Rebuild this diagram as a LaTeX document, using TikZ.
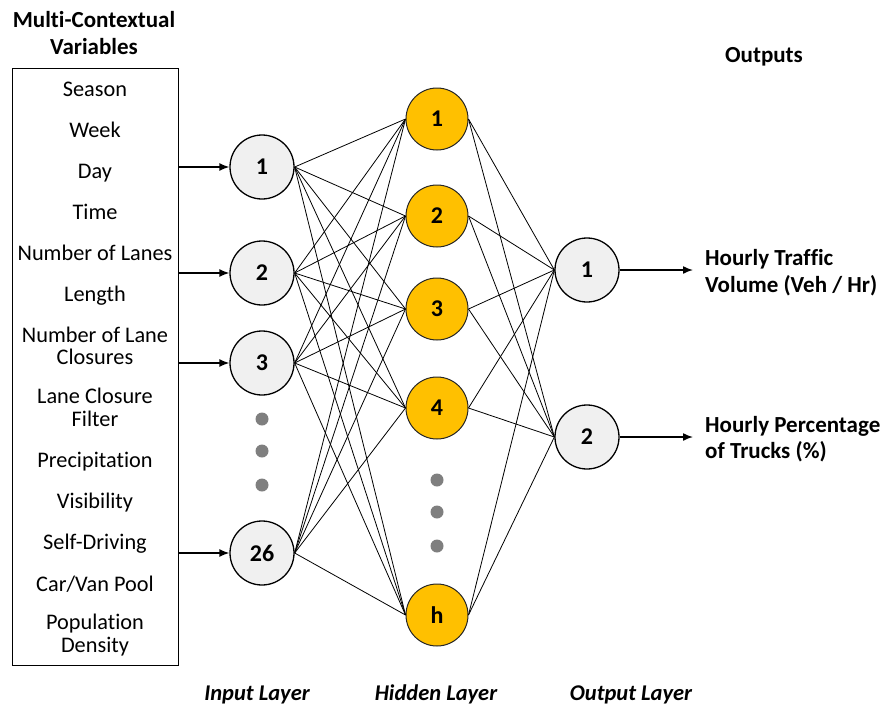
\documentclass[tikz,border=0pt]{standalone}
\usepackage{fontspec}
\setmainfont{Carlito}[Ligatures={NoCommon}]
\usetikzlibrary{arrows.meta}
\definecolor{hidgold}{HTML}{FFC000}
\definecolor{infill}{HTML}{F0F0F0}
\definecolor{dotgray}{HTML}{7F7F7F}
\begin{document}
\begin{tikzpicture}[x=1pt,y=-1pt,
  inp/.style={circle,draw=black,line width=1.3pt,fill=infill,minimum size=64pt,inner sep=0pt,font=\fontsize{24}{28}\selectfont\bfseries},
  hid/.style={circle,draw=black!85,line width=1pt,fill=hidgold,minimum size=62pt,inner sep=0pt,font=\fontsize{24}{28}\selectfont\bfseries},
  dotn/.style={circle,fill=dotgray,minimum size=13pt,inner sep=0pt},
  var/.style={anchor=base,align=center,font=\fontsize{22.3}{22.4}\selectfont,inner sep=0pt},
  ttl/.style={anchor=base,font=\fontsize{23}{27}\selectfont\bfseries,inner sep=0pt},
  lbl/.style={anchor=base west,font=\fontsize{23}{27}\selectfont\bfseries,inner sep=0pt},
  lay/.style={anchor=base,font=\fontsize{22.5}{26}\selectfont\bfseries\itshape,inner sep=0pt},
  link/.style={line width=0.8pt},
  feed/.style={line width=1.5pt,-{Latex[length=10pt,width=8pt]}},
]
\useasboundingbox (0,0) rectangle (881,707);

% title
\node[ttl] (t1) at (94,27.5) {Multi-Contextual};
\node[ttl] (t2) at (94,54) {Variables};

% variable box
\node[draw=black,line width=1pt,anchor=north west,minimum width=166pt,minimum height=597pt,inner sep=0pt] (box) at (12,68) {};

\node[var] (v1) at (95,96) {Season};
\node[var] (v2) at (95,137) {Week};
\node[var] (v3) at (95,178) {Day};
\node[var] (v4) at (95,219) {Time};
\node[var] (v5) at (95,260) {Number of Lanes};
\node[var] (v6) at (95,301) {Length};
\node[var] (v7) at (95,364.7) {Number of Lane\\Closures};
\node[var] (v8) at (95,426.2) {Lane Closure\\Filter};
\node[var] (v9) at (95,467) {Precipitation};
\node[var] (v10) at (95,508) {Visibility};
\node[var] (v11) at (95,549) {Self-Driving};
\node[var] (v12) at (95,591) {Car/Van Pool};
\node[var] (v13) at (95,652) {Population\\Density};

% input layer
\node[inp] (i1) at (262,167) {1};
\node[inp] (i2) at (262,273) {2};
\node[inp] (i3) at (262,363) {3};
\node[inp] (i26) at (262,553) {26};
\node[dotn] (id1) at (262,419) {};
\node[dotn] (id2) at (262,451) {};
\node[dotn] (id3) at (262,485) {};

% hidden layer
\node[hid] (h1) at (437,119) {1};
\node[hid] (h2) at (437,216) {2};
\node[hid] (h3) at (437,309) {3};
\node[hid] (h4) at (437,408) {4};
\node[hid] (hh) at (437,615) {h};
\node[dotn] (hd1) at (437,480) {};
\node[dotn] (hd2) at (437,512) {};
\node[dotn] (hd3) at (437,546) {};

% output layer
\node[inp] (o1) at (587,270) {1};
\node[inp] (o2) at (587,437) {2};

% connections
\foreach \a in {i1,i2,i3,i26}{
  \foreach \b in {h1,h2,h3,h4,hh}{
    \draw[link] (\a.east) -- (\b.west);
  }
}
\foreach \a in {h1,h2,h3,h4,hh}{
  \foreach \b in {o1,o2}{
    \draw[link] (\a.east) -- (\b.west);
  }
}

% input arrows
\foreach \a in {i1,i2,i3,i26}{
  \draw[feed] (box.east |- \a.west) -- (\a.west);
}

% output arrows and labels
\coordinate (e1) at (693,270);
\coordinate (e2) at (693,437);
\draw[feed] (o1.east) -- (e1);
\draw[feed] (o2.east) -- (e2);
\node[lbl] (l1a) at (705,265) {Hourly Traffic};
\node[lbl] (l1b) at (705,292) {Volume (Veh / Hr)};
\node[lbl] (l2a) at (705,432) {Hourly Percentage};
\node[lbl] (l2b) at (705,458) {of Trucks (\%)};
\node[ttl] (outs) at (764,62) {Outputs};

% layer labels
\node[lay] (li) at (257,700) {Input Layer};
\node[lay] (lh) at (436,700) {Hidden Layer};
\node[lay] (lo) at (631,700) {Output Layer};
\end{tikzpicture}
\end{document}
